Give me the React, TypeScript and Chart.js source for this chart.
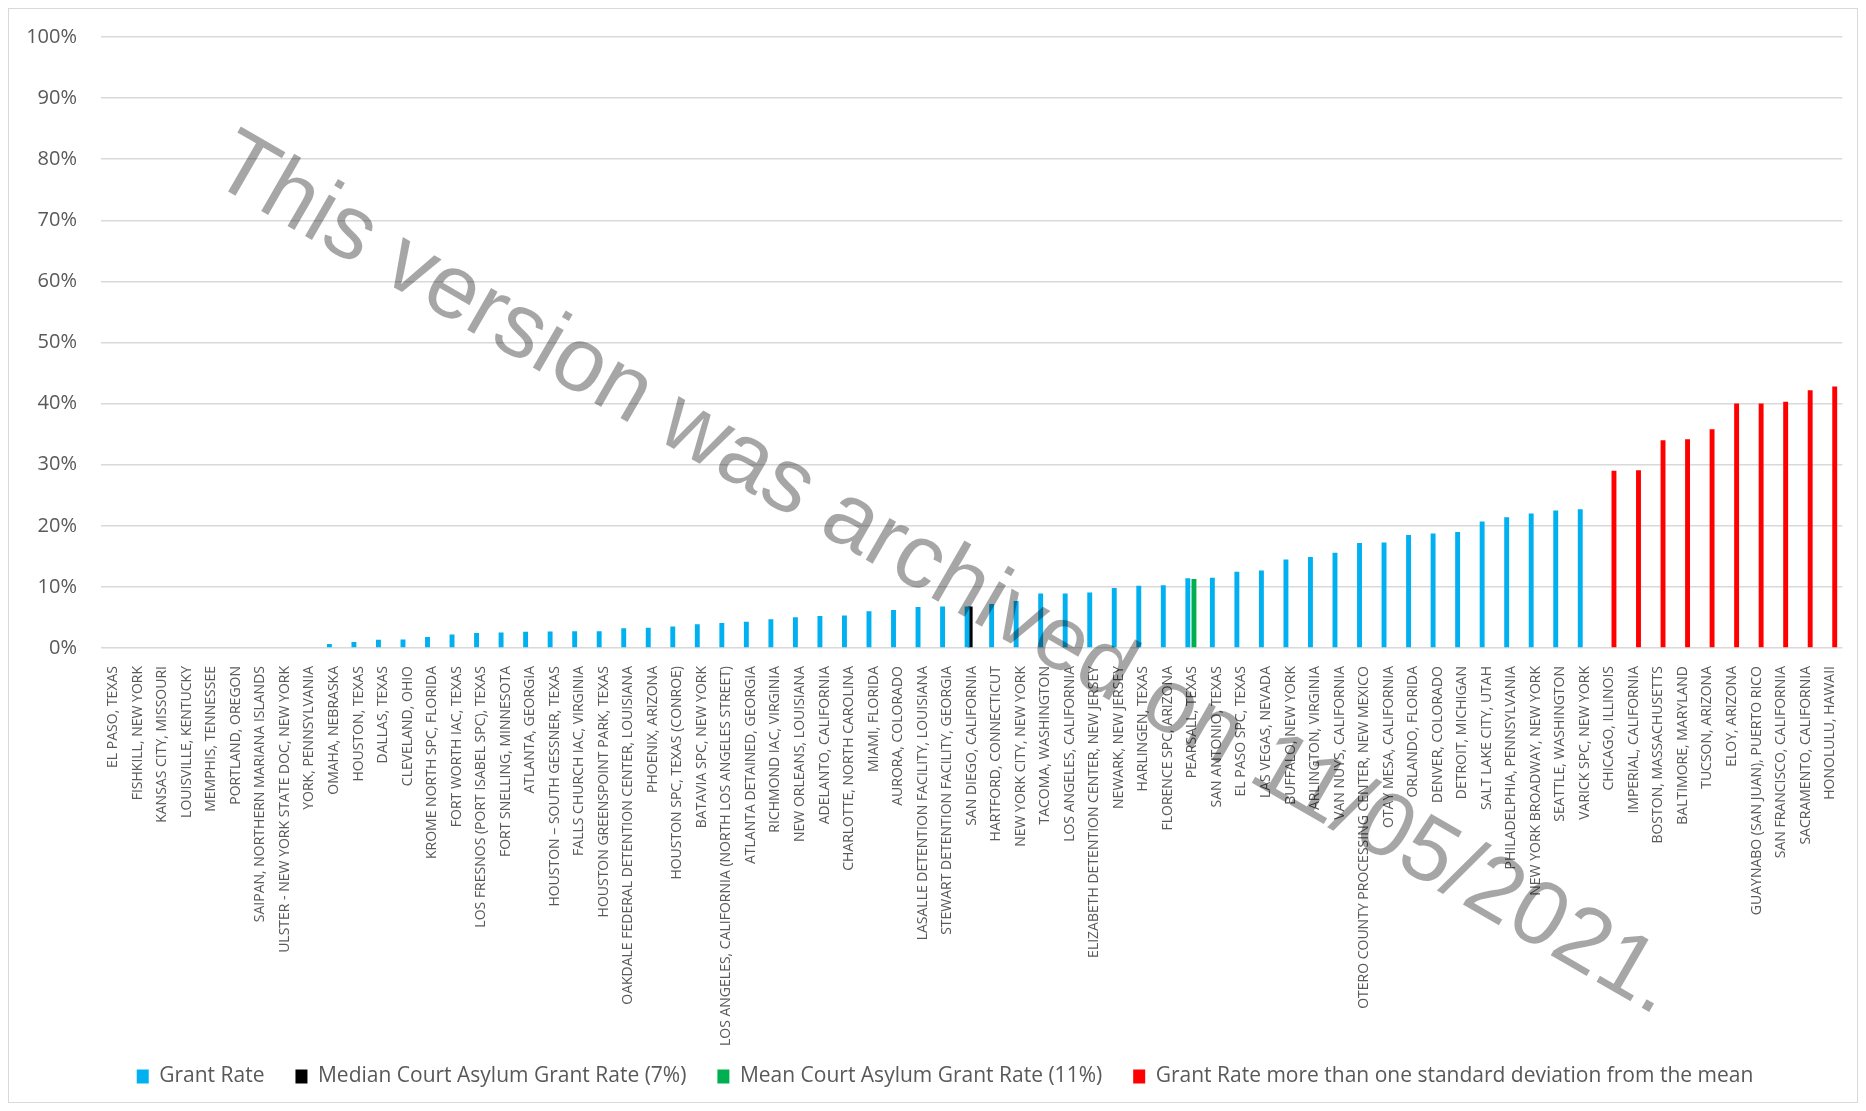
import React, { useEffect, useRef } from "react";
import { Chart, registerables } from "chart.js";

Chart.register(...registerables);

// ---- Data ----
const categories: string[] = [
  "EL PASO, TEXAS",
  "FISHKILL, NEW YORK",
  "KANSAS CITY, MISSOURI",
  "LOUISVILLE, KENTUCKY",
  "MEMPHIS, TENNESSEE",
  "PORTLAND, OREGON",
  "SAIPAN, NORTHERN MARIANA ISLANDS",
  "ULSTER - NEW YORK STATE DOC, NEW YORK",
  "YORK, PENNSYLVANIA",
  "OMAHA, NEBRASKA",
  "HOUSTON, TEXAS",
  "DALLAS, TEXAS",
  "CLEVELAND, OHIO",
  "KROME NORTH SPC, FLORIDA",
  "FORT WORTH IAC, TEXAS",
  "LOS FRESNOS (PORT ISABEL SPC), TEXAS",
  "FORT SNELLING, MINNESOTA",
  "ATLANTA, GEORGIA",
  "HOUSTON – SOUTH GESSNER, TEXAS",
  "FALLS CHURCH IAC, VIRGINIA",
  "HOUSTON GREENSPOINT PARK, TEXAS",
  "OAKDALE FEDERAL DETENTION CENTER, LOUISIANA",
  "PHOENIX, ARIZONA",
  "HOUSTON SPC, TEXAS (CONROE)",
  "BATAVIA SPC, NEW YORK",
  "LOS ANGELES, CALIFORNIA (NORTH LOS ANGELES STREET)",
  "ATLANTA DETAINED, GEORGIA",
  "RICHMOND IAC, VIRGINIA",
  "NEW ORLEANS, LOUISIANA",
  "ADELANTO, CALIFORNIA",
  "CHARLOTTE, NORTH CAROLINA",
  "MIAMI, FLORIDA",
  "AURORA, COLORADO",
  "LASALLE DETENTION FACILITY, LOUISIANA",
  "STEWART DETENTION FACILITY, GEORGIA",
  "SAN DIEGO, CALIFORNIA",
  "HARTFORD, CONNECTICUT",
  "NEW YORK CITY, NEW YORK",
  "TACOMA, WASHINGTON",
  "LOS ANGELES, CALIFORNIA",
  "ELIZABETH DETENTION CENTER, NEW JERSEY",
  "NEWARK, NEW JERSEY",
  "HARLINGEN, TEXAS",
  "FLORENCE SPC, ARIZONA",
  "PEARSALL, TEXAS",
  "SAN ANTONIO, TEXAS",
  "EL PASO SPC, TEXAS",
  "LAS VEGAS, NEVADA",
  "BUFFALO, NEW YORK",
  "ARLINGTON, VIRGINIA",
  "VAN NUYS, CALIFORNIA",
  "OTERO COUNTY PROCESSING CENTER, NEW MEXICO",
  "OTAY MESA, CALIFORNIA",
  "ORLANDO, FLORIDA",
  "DENVER, COLORADO",
  "DETROIT, MICHIGAN",
  "SALT LAKE CITY, UTAH",
  "PHILADELPHIA, PENNSYLVANIA",
  "NEW YORK BROADWAY, NEW YORK",
  "SEATTLE, WASHINGTON",
  "VARICK SPC, NEW YORK",
  "CHICAGO, ILLINOIS",
  "IMPERIAL, CALIFORNIA",
  "BOSTON, MASSACHUSETTS",
  "BALTIMORE, MARYLAND",
  "TUCSON, ARIZONA",
  "ELOY, ARIZONA",
  "GUAYNABO (SAN JUAN), PUERTO RICO",
  "SAN FRANCISCO, CALIFORNIA",
  "SACRAMENTO, CALIFORNIA",
  "HONOLULU, HAWAII",
];

// Grant Rate (blue), in %, for the first 61 courts
const grantRate: number[] = [
  0, 0, 0, 0, 0, 0, 0, 0, 0,
  0.65, 1.0, 1.35, 1.4, 1.8, 2.2, 2.45, 2.55, 2.65, 2.7,
  2.75, 2.75, 3.25, 3.3, 3.5, 3.9, 4.1, 4.3, 4.7, 5.05,
  5.25, 5.3, 6.0, 6.2, 6.7, 6.8, 6.8, 7.2, 7.7, 8.9,
  8.9, 9.1, 9.8, 10.2, 10.25, 11.4, 11.5, 12.5, 12.7, 14.5,
  14.9, 15.6, 17.2, 17.25, 18.5, 18.75, 19.0, 20.7, 21.4, 22.0,
  22.5, 22.7,
];

// Grant rate more than one standard deviation from the mean (red), last 10 courts
const outlierRate: number[] = [29.0, 29.1, 34.0, 34.15, 35.8, 40.0, 40.0, 40.3, 42.2, 42.8];

const medianCategory = "SAN DIEGO, CALIFORNIA";
const medianValue = 6.8;
const meanCategory = "PEARSALL, TEXAS";
const meanValue = 11.3;

const seriesLabels: string[] = [
  "Grant Rate",
  "Median Court Asylum Grant Rate (7%)",
  "Mean Court Asylum Grant Rate (11%)",
  "Grant Rate more than one standard deviation from the mean",
];
const seriesColors: string[] = ["#00B0F0", "#000000", "#00B050", "#FF0000"];

const yMin = 0;
const yMax = 100;
const yStep = 10;

const watermarkText = "This version was archived on 11/05/2021.";

const TEXT_COLOR = "#595959";
const GRID_COLOR = "#D9D9D9";

const watermarkPlugin = {
  id: "watermark",
  afterDraw(chart: any) {
    const ctx = chart.ctx;
    ctx.save();
    ctx.translate(923, 589);
    ctx.rotate((30 * Math.PI) / 180);
    ctx.font = '91px "Liberation Sans", Arial, sans-serif';
    ctx.fillStyle = "rgba(0,0,0,0.35)";
    ctx.textAlign = "center";
    ctx.textBaseline = "alphabetic";
    ctx.fillText(watermarkText, 0, 0);
    ctx.restore();
  },
};

// let the tick labels use space outside their axis boxes (no clipping)
const labelRoomPlugin = {
  id: "labelRoom",
  afterLayout(chart: any) {
    if (chart.scales && chart.scales.y) chart.scales.y.left = 0;
    if (chart.scales && chart.scales.x) chart.scales.x.bottom = chart.height;
  },
};

export default function App() {
  const canvasRef = useRef<HTMLCanvasElement | null>(null);

  useEffect(() => {
    if (!canvasRef.current) return;
    const n = categories.length;
    const offsetRed = n - outlierRate.length;
    const blueData = categories.map((_, i) => (i < grantRate.length ? grantRate[i] : null));
    const medianData = categories.map((c) => (c === medianCategory ? medianValue : null));
    const meanData = categories.map((c) => (c === meanCategory ? meanValue : null));
    const redData = categories.map((_, i) => (i >= offsetRed ? outlierRate[i - offsetRed] : null));
    const allData = [blueData, medianData, meanData, redData];

    const chart = new Chart(canvasRef.current, {
      type: "bar",
      data: {
        labels: categories,
        datasets: allData.map((d, k) => ({
          label: seriesLabels[k],
          data: d,
          backgroundColor: seriesColors[k],
          borderWidth: 0,
          categoryPercentage: 0.5,
          barPercentage: 1.6,
        })),
      },
      options: {
        animation: false,
        responsive: false,
        maintainAspectRatio: false,
        devicePixelRatio: 1,
        layout: { padding: { top: 28, right: 12, bottom: 5, left: 36 } },
        plugins: {
          legend: {
            position: "bottom",
            labels: {
              boxWidth: 12,
              boxHeight: 14,
              padding: 31,
              color: TEXT_COLOR,
              font: { family: "'Open Sans'", size: 21 },
            },
          },
          tooltip: { enabled: false },
          title: { display: false },
        },
        scales: {
          x: {
            type: "category",
            grid: { display: false },
            border: { display: false },
            ticks: {
              autoSkip: false,
              minRotation: 90,
              maxRotation: 90,
              padding: 10,
              color: TEXT_COLOR,
              font: { family: "'Open Sans'", size: 14 },
            },
            afterFit: (s: any) => {
              s.height = 387;
            },
          },
          y: {
            min: yMin,
            max: yMax,
            ticks: {
              stepSize: yStep,
              padding: 16,
              color: TEXT_COLOR,
              font: { family: "'Open Sans'", size: 20 },
              callback: (v: any) => `${v}%`,
            },
            grid: {
              color: GRID_COLOR,
              lineWidth: 1.5,
              drawTicks: true,
              tickLength: 8,
              tickColor: "rgba(0,0,0,0)",
            },
            border: { display: false },
            afterFit: (s: any) => {
              s.width = 56;
            },
          },
        },
      },
      plugins: [watermarkPlugin, labelRoomPlugin],
    });
    return () => chart.destroy();
  }, []);

  return (
    <div
      style={{
        width: 1850,
        height: 1095,
        border: "1px solid #D9D9D9",
        boxSizing: "border-box",
        background: "#ffffff",
      }}
    >
      <canvas ref={canvasRef} width={1848} height={1093} style={{ display: "block" }} />
    </div>
  );
}
